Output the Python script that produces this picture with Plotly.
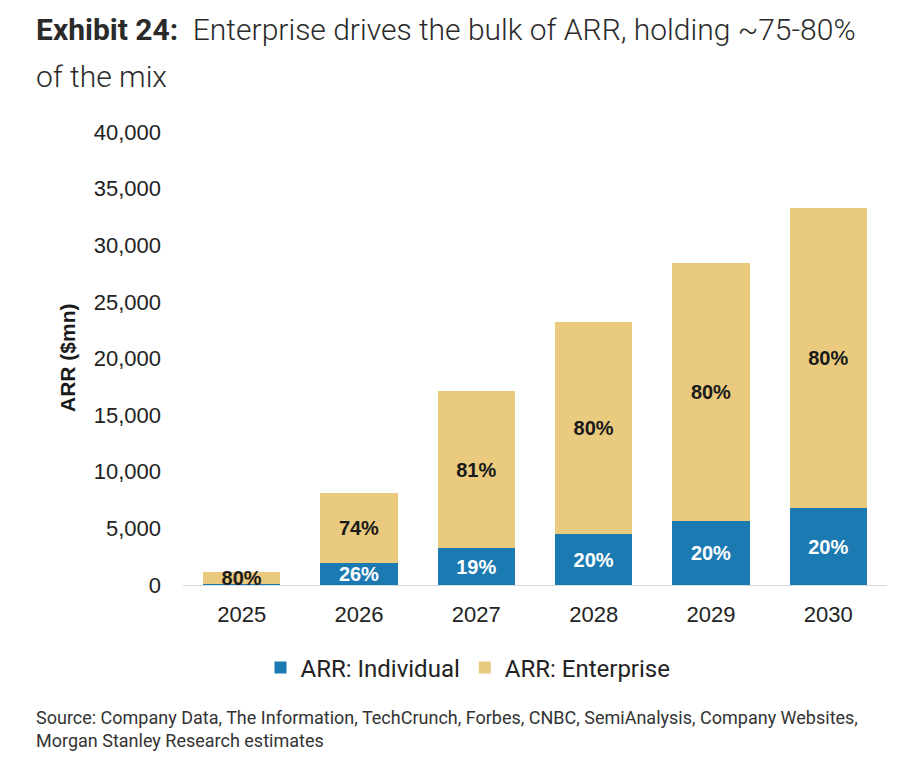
import plotly.graph_objects as go

# data
years = ["2025", "2026", "2027", "2028", "2029", "2030"]
arr_individual = [90, 1940, 3265, 4500, 5650, 6770]
arr_enterprise = [1030, 6180, 13855, 18740, 22740, 26560]
individual_labels = ["", "26%", "19%", "20%", "20%", "20%"]
enterprise_labels = ["80%", "74%", "81%", "80%", "80%", "80%"]
y_ticks = [0, 5000, 10000, 15000, 20000, 25000, 30000, 35000, 40000]

BLUE = "#1c7ab2"
GOLD = "#e9ca7e"

# page puts the figure 8px in from the top-left corner
OFF = 8
W, H = 892, 760
L, R, T, B = 175, 13, 124, 183
pw, ph = W - L - R, H - T - B


def px(x):
    return (x - OFF - L) / pw


def py(y):
    return (H - B - (y - OFF)) / ph


fig = go.Figure()
fig.add_trace(go.Bar(
    x=years, y=arr_individual, name="ARR: Individual",
    marker=dict(color=BLUE, line=dict(width=0)),
    text=individual_labels, textposition="inside", insidetextanchor="middle",
    textangle=0, constraintext="none",
    textfont=dict(family="Liberation Sans", size=20, color="white", weight="bold"),
))
fig.add_trace(go.Bar(
    x=years, y=arr_enterprise, name="ARR: Enterprise",
    marker=dict(color=GOLD, line=dict(width=0)),
    text=enterprise_labels, textposition="inside", insidetextanchor="middle",
    textangle=0, constraintext="none",
    textfont=dict(family="Liberation Sans", size=20, color="#1a1a1a", weight="bold"),
))

annotations = [
    dict(text="<b>Exhibit 24:</b>  Enterprise drives the bulk of ARR, holding ~75-80%",
         x=px(34), y=py(30), xanchor="left", yanchor="middle",
         font=dict(family="Roboto", size=30, color="#2a2a2a", weight=300)),
    dict(text="of the mix",
         x=px(34), y=py(76), xanchor="left", yanchor="middle",
         font=dict(family="Roboto", size=30, color="#2a2a2a", weight=300)),
    dict(text="<b>ARR ($mn)</b>", textangle=-90,
         x=px(67), y=py(358), xanchor="center", yanchor="middle",
         font=dict(family="Liberation Sans", size=21, color="#1a1a1a")),
    dict(text="Source: Company Data, The Information, TechCrunch, Forbes, CNBC, SemiAnalysis, Company Websites,"
              "<br>Morgan Stanley Research estimates",
         x=px(34), y=py(729), xanchor="left", yanchor="middle", align="left",
         font=dict(family="Roboto", size=18, color="#333333")),
]
for a in annotations:
    a.update(xref="paper", yref="paper", showarrow=False)

fig.update_layout(
    width=W, height=H,
    margin=dict(l=L, r=R, t=T, b=B, autoexpand=False),
    paper_bgcolor="white", plot_bgcolor="white",
    barmode="stack", bargap=0.34,
    showlegend=True,
    legend=dict(orientation="h", x=px(468), y=py(668), xanchor="center", yanchor="middle",
                font=dict(family="Roboto", size=24, color="#222222"),
                itemwidth=30, traceorder="normal"),
    annotations=annotations,
    xaxis=dict(showgrid=False, showline=True, linecolor="#d9d9d9", linewidth=1,
               ticks="", ticklabelstandoff=10,
               tickfont=dict(family="Liberation Sans", size=22, color="#222222")),
    yaxis=dict(range=[0, 40000], tickvals=y_ticks, tickformat=",d",
               showgrid=False, zeroline=False, showline=False, ticks="",
               ticklabelstandoff=21,
               tickfont=dict(family="Liberation Sans", size=22, color="#222222")),
)

fig.write_html("out.html")
